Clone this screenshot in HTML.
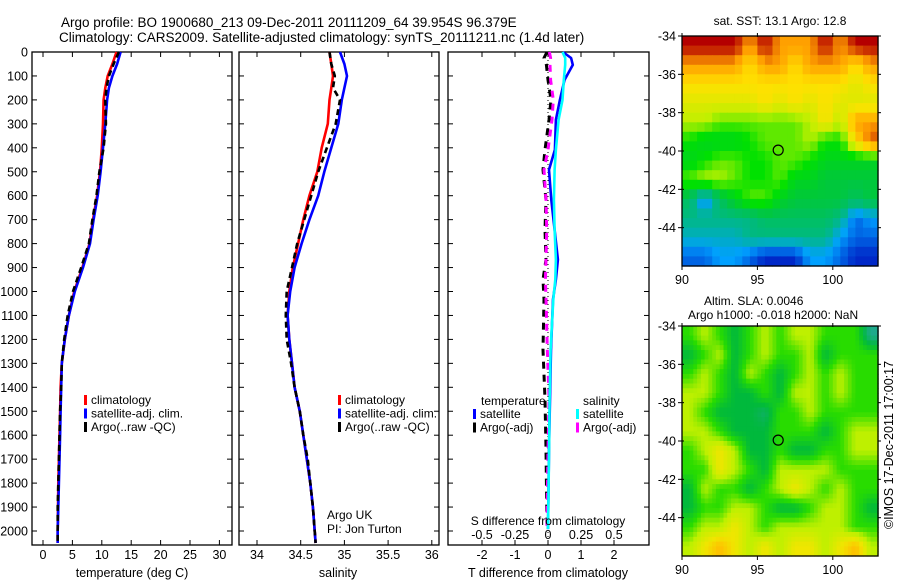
<!DOCTYPE html>
<html><head><meta charset="utf-8">
<style>
html,body{margin:0;padding:0;background:#fff;}
svg{display:block;font-family:"Liberation Sans",sans-serif;}
</style></head>
<body>
<svg id="c" width="900" height="580" viewBox="0 0 900 580" xmlns="http://www.w3.org/2000/svg">
<text x="61" y="27" font-size="13.5">Argo profile: BO 1900680_213 09-Dec-2011 20111209_64 39.954S 96.379E</text>
<text x="59" y="42" font-size="13.5">Climatology: CARS2009. Satellite-adjusted climatology: synTS_20111211.nc (1.4d later)</text>
</svg>
<script>
// ---- data ----
const depths = [0,50,100,150,200,300,400,500,600,700,800,900,1000,1100,1200,1300,1400,1500,1600,1700,1800,1900,2000,2050];
const tempClim = [12.5,11.8,11.0,10.6,10.3,10.2,10.0,9.7,9.2,8.5,7.9,6.7,5.3,4.4,3.7,3.2,3.0,2.9,2.8,2.7,2.6,2.55,2.5,2.5];
const tempSat  = [13.2,12.6,11.8,11.2,10.9,10.6,10.2,9.8,9.3,8.6,8.0,6.8,5.4,4.4,3.7,3.2,3.1,3.0,2.9,2.8,2.7,2.6,2.5,2.5];
const tempArgo = [12.9,12.0,11.2,10.8,10.6,10.7,10.3,9.6,9.1,8.4,7.8,6.5,5.1,4.2,3.6,3.2,3.1,2.9,2.8,2.7,2.6,2.5,2.5,2.5];
const salClim = [34.83,34.85,34.87,34.85,34.83,34.81,34.74,34.69,34.60,34.53,34.47,34.41,34.37,34.35,34.37,34.40,34.43,34.49,34.53,34.57,34.61,34.64,34.66,34.67];
const salSat  = [34.95,35.00,35.03,35.00,34.97,34.93,34.85,34.77,34.70,34.60,34.51,34.43,34.38,34.35,34.37,34.40,34.43,34.49,34.53,34.57,34.61,34.64,34.66,34.67];
const salArgo = [34.83,34.85,34.89,34.87,34.95,34.90,34.80,34.70,34.62,34.54,34.46,34.40,34.34,34.33,34.34,34.39,34.43,34.49,34.53,34.58,34.61,34.64,34.66,34.67];
const diffDepths = [0,25,54,117,200,283,408,492,617,742,867,950,1033,1242,1450,1658,1992];
const dTSat  = [0.45,0.70,0.75,0.50,0.36,0.24,0.21,0.03,0.10,0.20,0.30,0.24,0.15,0.09,0.06,0.03,0.0];
const dSSat  = [0.11,0.13,0.13,0.12,0.11,0.08,0.06,0.05,0.045,0.05,0.06,0.055,0.04,0.02,0.012,0.008,0.0];
const dTArgo = [-0.03,-0.12,-0.05,0.0,0.09,0.03,-0.09,-0.15,-0.06,-0.09,-0.06,-0.15,-0.12,-0.15,-0.09,-0.06,-0.03];
const dSArgo = [0.01,0.02,0.015,0.02,0.04,0.03,0.0,-0.03,-0.015,-0.01,-0.015,-0.02,-0.015,-0.005,0.008,0.0,-0.008];
const depthTicks = [0,100,200,300,400,500,600,700,800,900,1000,1100,1200,1300,1400,1500,1600,1700,1800,1900,2000];
const tempTicks = [0,5,10,15,20,25,30];
const salTicks = [34,34.5,35,35.5,36];
const salTickLabels = ["34","34.5","35","35.5","36"];
const tdTicks = [-2,-1,0,1,2];
const sdTicks = [-0.5,-0.25,0,0.25,0.5];
const sdTickLabels = ["-0.5","-0.25","0","0.25","0.5"];
const latTicks = [-34,-36,-38,-40,-42,-44];
const lonTicks = [90,95,100];
const argoLon = 96.379, argoLat = -39.954;
// SST map values (levels 0..9), rows from -34 southward, cols 90..103
const sstGrid = [
[9,9,9,9,8,9,8,8,8,9,8,9,9],
[8,8,8,8,7,8,8,7,8,8,8,7,8],
[7,7,7,7,7,7,7,7,7,7,7,6.5,7],
[6.5,6.5,6.5,6.5,6.5,7,6.5,7,6.5,7,6.5,6.5,6.5],
[6,6,5.5,5.5,5.5,5.5,5.5,5.5,6,7,6,8,8],
[5,4.5,4.5,4.5,5,5.5,5.5,5.5,6,5,5,7,8.5],
[4.5,5,5.5,5.5,5,5,5.5,5.5,5,4.5,4.5,4.5,4.5],
[5.5,6,6,5.5,5,5,5.5,4.5,4.5,4,4,4,4],
[3.5,1.5,3.5,4.5,5.5,5.5,4.5,4,4,4,4,3.5,4],
[3,3,3,3,3,3.5,3.5,3.5,3.5,3.5,3,1.5,2],
[2.5,2.5,2.5,2.5,3,3,3,3,3,3,2,1.5,1.5],
[1.5,1.5,2,2,1.5,1,1,1,2,2,1.5,1,1]];
// SLA map levels 0..5
const slaGrid = [
[2,3,2,1,2,3,2,3,3,2,2,2,0],
[1,2,3,1,2,3,2,2,3,1,2,2,2],
[2,3,2,1,3,2,1,2,3,2,3,2,2],
[3,3,2,1,1,2,1,3,3,2,3,2,2],
[3,2,1,1,1,0.5,2,2,3,2,2,2,2],
[3,3,2,1,1,1,2,2,2,1,2,3,3],
[2,3,4,3,1,1,2,1,1,2,2,3,3],
[2,2,4,3,2,1,3,3,3,3,2,2,2],
[1,3,2,2,1,2,3,4,3,2,3,2,2],
[1,2,2,3,3,2,1,1,2,3,3,2,1],
[2,3,3,4,3,2,3,3,3,3,3,2,2],
[3,4,5,4,3,4,3,4,4,3,4,5,3]];

// ---- drawing ----
const svg = document.getElementById('c');
const NS = 'http://www.w3.org/2000/svg';
function mk(tag, attrs, parent){
  const e = document.createElementNS(NS, tag);
  for (const k in attrs) e.setAttribute(k, attrs[k]);
  (parent||svg).appendChild(e);
  return e;
}
function txt(x,y,s,size,anchor,parent){
  const t = mk('text',{x:x,y:y,'font-size':size||12,'text-anchor':anchor||'start'},parent);
  t.textContent = s;
  return t;
}
const TOP=52, BOT=545;
const yD = d => TOP + d*0.2395;
const P1 = {l:32,r:232}, P2={l:239,r:439}, P3={l:448,r:649};
const xT = t => 43 + t*5.88;
const xS = s => 257 + (s-34)*87.4;
const xdT = v => 548 + v*33;
const xdS = v => 548 + v*132;

function frame(p, name){
  const r = mk('rect',{x:p.l,y:TOP,width:p.r-p.l,height:BOT-TOP,fill:'none',stroke:'#000','stroke-width':1.3});
  
  
}
function yTicks(p, labels){
  const g = mk('g',{});
  
  
  depthTicks.forEach(d=>{
    const y = yD(d);
    mk('line',{x1:p.l,x2:p.l+5,y1:y,y2:y,stroke:'#000'},g);
    mk('line',{x1:p.r,x2:p.r-5,y1:y,y2:y,stroke:'#000'},g);
    if(labels){ txt(p.l-4,y+4.5,String(d),12.5,'end',g); }
  });
}
function xTicks(p, vals, fx, labs, ly, name){
  const g = mk('g',{});
  
  
  vals.forEach((v,i)=>{
    const x = fx(v);
    mk('line',{x1:x,x2:x,y1:BOT,y2:BOT-5,stroke:'#000'},g);
    mk('line',{x1:x,x2:x,y1:TOP,y2:TOP+5,stroke:'#000'},g);
    if(ly) txt(x,ly,labs[i],12.5,'middle',g);
  });
}
function line(ds, vs, fx, color, name, dash, w){
  const pts = ds.map((d,i)=>fx(vs[i]).toFixed(1)+','+yD(d).toFixed(1)).join(' ');
  const a = {points:pts,fill:'none',stroke:color,'stroke-width':w||2.6,'stroke-linejoin':'round'};
  if(dash) a['stroke-dasharray']=dash;
  const e = mk('polyline',a);
  
  
}
function legend(x, y, items, name){
  const g = mk('g',{});
  
  
  items.forEach((it,i)=>{
    mk('rect',{x:x,y:y+i*13.5-9,width:3,height:10,fill:it[0]},g);
    txt(x+7,y+i*13.5,it[1],12,'start',g);
  });
}

// Panel 1
frame(P1,'temperature-panel');
yTicks(P1,true);
xTicks(P1,tempTicks,xT,tempTicks.map(String),559,'temperature-x-axis');
line(depths,tempClim,xT,'#ff0000','temperature-climatology-line');
line(depths,tempSat,xT,'#0000ff','temperature-satellite-line');
line(depths,tempArgo,xT,'#000000','temperature-argo-line','6,4',2.6);
txt(132,577,'temperature (deg C)',12.5,'middle');
legend(84,404,[['#ff0000','climatology'],['#0000ff','satellite-adj. clim.'],['#000','Argo(..raw -QC)']],'temperature-legend');

// Panel 2
frame(P2,'salinity-panel');
yTicks(P2,false);
xTicks(P2,salTicks,xS,salTickLabels,559,'salinity-x-axis');
line(depths,salClim,xS,'#ff0000','salinity-climatology-line');
line(depths,salSat,xS,'#0000ff','salinity-satellite-line');
line(depths,salArgo,xS,'#000000','salinity-argo-line','6,4',2.6);
txt(338,577,'salinity',12.5,'middle');
legend(338,404,[['#ff0000','climatology'],['#0000ff','satellite-adj. clim.'],['#000','Argo(..raw -QC)']],'salinity-legend');
const pi = mk('g',{});


txt(327,519,'Argo UK',12,'start',pi);
txt(327,533,'PI: Jon Turton',12,'start',pi);

// Panel 3
frame(P3,'difference-panel');
yTicks(P3,false);
xTicks(P3,tdTicks,xdT,tdTicks.map(String),559,'t-difference-axis');
const sg = mk('g',{});


sdTicks.forEach((v,i)=>txt(xdS(v),539,sdTickLabels[i],12.5,'middle',sg));
const zl = mk('line',{x1:548,x2:548,y1:TOP,y2:yD(2050),stroke:'#000','stroke-dasharray':'1,3'});


line(diffDepths,dTArgo,xdT,'#000000','t-diff-argo-line','7,6',3);
line(diffDepths,dSArgo,xdS,'#ff00ff','s-diff-argo-line','7,6',3);
line(diffDepths,dTSat,xdT,'#0000ff','t-diff-satellite-line');
line(diffDepths,dSSat,xdS,'#00ffff','s-diff-satellite-line');
txt(548,525,'S difference from climatology',12,'middle');
txt(548,577,'T difference from climatology',12.5,'middle');
txt(481,405,'temperature',12,'start');
txt(583,405,'salinity',12,'start');
legend(473,418,[['#0000ff','satellite'],['#000','Argo(-adj)']],'t-diff-legend');
legend(576,418,[['#00ffff','satellite'],['#ff00ff','Argo(-adj)']],'s-diff-legend');

// Maps
const ML=682, MR=878;
const xLon = lon => ML + (lon-90)*15.08;
function lerpCol(stops, v){
  v = Math.max(0, Math.min(stops.length-1, v));
  const i = Math.min(stops.length-2, Math.floor(v)), f = v-i;
  const a = stops[i], b = stops[i+1];
  return 'rgb('+a.map((c,k)=>Math.round(c+(b[k]-c)*f)).join(',')+')';
}
function sample(grid, r, c){
  // bilinear sample at fractional cell-centre coords
  const R = grid.length, C = grid[0].length;
  r = Math.max(0, Math.min(R-1, r)); c = Math.max(0, Math.min(C-1, c));
  const r0 = Math.floor(r), c0 = Math.floor(c), r1 = Math.min(R-1,r0+1), c1 = Math.min(C-1,c0+1);
  const fr = r-r0, fc = c-c0;
  return grid[r0][c0]*(1-fr)*(1-fc)+grid[r0][c1]*(1-fr)*fc+grid[r1][c0]*fr*(1-fc)+grid[r1][c1]*fr*fc;
}
function drawMap(top, bot, grid, stops, name, sub){
  const yLat = lat => top + (-34-lat)*(bot-top)/12;
  const g = mk('g',{});
  
  
  const R = grid.length, C = grid[0].length;
  for(let r=0;r<R*sub;r++) for(let c=0;c<C*sub;c++){
    const v = sample(grid, (r+0.5)/sub-0.5, (c+0.5)/sub-0.5);
    const x0 = xLon(90+c/sub), x1 = xLon(90+(c+1)/sub);
    const y0 = yLat(-34-r/sub), y1 = yLat(-34-(r+1)/sub);
    const cell = mk('rect',{x:x0.toFixed(1),y:y0.toFixed(1),width:(x1-x0+0.6).toFixed(1),height:(y1-y0+0.6).toFixed(1),fill:lerpCol(stops,v)},g);
    
    
  }
  mk('rect',{x:ML,y:top,width:MR-ML,height:bot-top,fill:'none',stroke:'#000','stroke-width':1.3},g);
  latTicks.forEach(lat=>{
    const y=yLat(lat);
    mk('line',{x1:ML-4,x2:ML+2,y1:y,y2:y,stroke:'#000'},g);
    mk('line',{x1:MR,x2:MR+3,y1:y,y2:y,stroke:'#000'},g);
    txt(ML-6,y+4.5,String(lat),12.5,'end',g);
  });
  lonTicks.forEach(lon=>{
    const x=xLon(lon);
    mk('line',{x1:x,x2:x,y1:bot,y2:bot+4,stroke:'#000'},g);
    mk('line',{x1:x,x2:x,y1:top-3,y2:top+1,stroke:'#000'},g);
    txt(x,bot+18,String(lon),12.5,'middle',g);
  });
  const m = mk('circle',{cx:xLon(argoLon),cy:yLat(argoLat),r:5,fill:'none',stroke:'#000','stroke-width':1.2},g);
  
  
}
const sstStops = [[0,0,130],[0,40,200],[0,160,255],[0,185,130],[0,200,60],[0,225,0],[190,240,0],[255,225,0],[255,160,0],[180,0,0]];
const slaStops = [[30,170,140],[0,185,60],[40,220,0],[190,240,0],[240,230,0],[255,190,0]];
drawMap(36,266,sstGrid,sstStops,'sst-map',2);
drawMap(326,556,slaGrid,slaStops,'sla-map',4);
txt(780,25,'sat. SST: 13.1  Argo: 12.8',12,'middle');
txt(704,305,'Altim. SLA: 0.0046',12,'start');
txt(688,319,'Argo h1000: -0.018 h2000: NaN',12,'start');
const cr = txt(0,0,'\u00A9IMOS 17-Dec-2011 17:00:17',12.5,'middle');
cr.setAttribute('transform','translate(893,445) rotate(-90)');


</script>
</body></html>
